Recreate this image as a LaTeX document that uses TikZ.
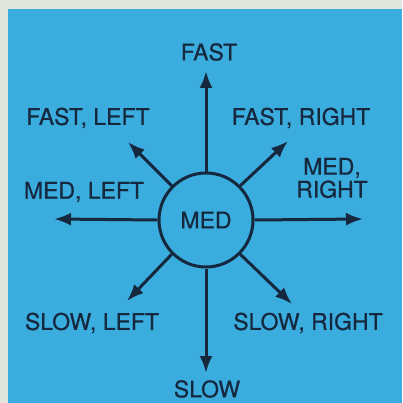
\documentclass[tikz,border=0pt]{standalone}
\usepackage{fontspec}
\setmainfont[FakeBold=0.6]{TeX Gyre Heros}
\usetikzlibrary{arrows.meta}
\definecolor{bgblue}{RGB}{58,172,222}
\definecolor{ink}{RGB}{22,40,62}
\definecolor{paper}{RGB}{226,228,222}
\tikzset{
  lbl/.style={text=ink, font=\fontsize{23}{25}\selectfont, inner sep=0pt, align=center},
  arr/.style={draw=ink, line width=3pt, -{Latex[length=17pt,width=13pt]}},
}
\begin{document}
\begin{tikzpicture}[x=1pt,y=-1pt]
\useasboundingbox (0,0) rectangle (402,403);
\fill[paper] (0,0) rectangle (402,403);
\fill[bgblue] (8,9) rectangle (402,403);
\node[circle, draw=ink, line width=3pt, minimum size=94pt, inner sep=0pt, lbl] (med) at (206,220) {MED};
\coordinate (tN) at (206,71);
\coordinate (tS) at (206,373);
\coordinate (tW) at (54,219);
\coordinate (tE) at (363,219);
\coordinate (tNW) at (128,142);
\coordinate (tNE) at (288,141);
\coordinate (tSW) at (127,301);
\coordinate (tSE) at (292,304);
\draw[arr] (med.north) -- (tN);
\draw[arr] (med.south) -- (tS);
\draw[arr] (med.west) -- (tW);
\draw[arr] (med.east) -- (tE);
\draw[arr] (med.north west) -- (tNW);
\draw[arr] (med.north east) -- (tNE);
\draw[arr] (med.south west) -- (tSW);
\draw[arr] (med.south east) -- (tSE);
\node[lbl] (fast) at (209,52) {FAST};
\node[lbl] (fastleft) at (88,118) {FAST, LEFT};
\node[lbl] (fastright) at (301,118) {FAST, RIGHT};
\node[lbl] (medleft) at (84,192) {MED, LEFT};
\node[lbl] (medright) at (332,178) {MED,\\[-2pt]RIGHT};
\node[lbl] (slowleft) at (92,323) {SLOW, LEFT};
\node[lbl] (slowright) at (308,323) {SLOW, RIGHT};
\node[lbl] (slow) at (207,389) {SLOW};
\end{tikzpicture}
\end{document}
